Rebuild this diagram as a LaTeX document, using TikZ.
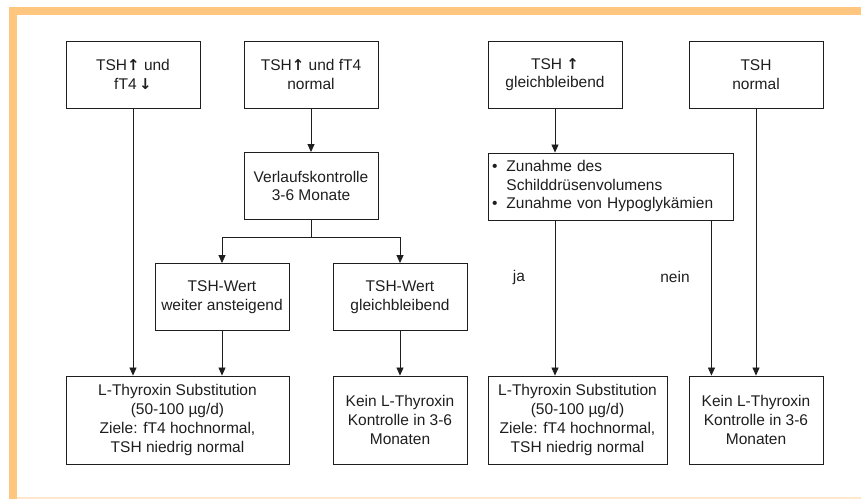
\documentclass[tikz,border=0pt]{standalone}
\usepackage{fontspec}
\setmainfont{Liberation Sans}
\newfontfamily\pfeilfont{DejaVu Sans}
\usetikzlibrary{arrows.meta}
\definecolor{rahmen}{RGB}{255,198,128}
\definecolor{rahmenhell}{RGB}{255,232,204}
\definecolor{tinte}{RGB}{30,30,30}
\newcommand{\auf}{{\pfeilfont\bfseries\fontsize{15}{15}\selectfont ↑}}
\newcommand{\ab}{{\pfeilfont\bfseries\fontsize{15}{15}\selectfont ↓}}

\begin{document}
\begin{tikzpicture}[x=1pt, y=-1pt,
  box/.style={draw=tinte, line width=0.9pt, align=center, inner sep=2pt,
    text=tinte, font=\fontsize{15.5}{18.7}\selectfont,
    minimum width=134pt, minimum height=67pt},
  hoch/.style={box, minimum height=88pt},
  pfeil/.style={draw=tinte, line width=0.75pt, -{Triangle[length=8pt,width=7pt]}},
  marke/.style={text=tinte, font=\fontsize{15.5}{18.7}\selectfont}]

  \useasboundingbox (0,0) rectangle (861,499);

  %% orange frame
  \fill[rahmen] (9,7) rectangle (17,499);
  \fill[rahmen] (9,7) rectangle (861,15);
  \fill[rahmenhell] (17,497) rectangle (861,499);

  %% top row
  \node[box] (tshA) at (133,74.5) {TSH\auf\ und\\fT4\,\ab};
  \node[box] (tshB) at (311,74.5) {TSH\auf\ und fT4\\normal};
  \node[box] (tshC) at (555,74.5) {TSH \auf\\gleichbleibend};
  \node[box] (tshD) at (756,74.5) {TSH\\normal};

  %% middle
  \node[box] (verl) at (311,186) {Verlaufskontrolle\\3-6 Monate};
  \node[box, minimum width=245pt, text width=237pt, align=left] (zun) at (610.5,186.5)
    {\begin{tabular}{@{}l@{\hspace{9pt}}l@{}}
       • & Zunahme des\\
         & Schilddrüsenvolumens\\
       • & Zunahme von Hypoglykämien
     \end{tabular}};
  \node[box] (weiter) at (222,297) {TSH-Wert\\weiter ansteigend};
  \node[box] (gleich) at (400,297) {TSH-Wert\\gleichbleibend};

  %% bottom row
  \node[hoch, minimum width=223pt] (lL) at (177.5,420)
    {L-Thyroxin Substitution\\(50-100 µg/d)\\Ziele: fT4 hochnormal,\\TSH niedrig normal};
  \node[hoch] (kM) at (400,420) {Kein L-Thyroxin\\Kontrolle in 3-6\\Monaten};
  \node[hoch, minimum width=179pt] (lR) at (577.5,420)
    {L-Thyroxin Substitution\\(50-100 µg/d)\\Ziele: fT4 hochnormal,\\TSH niedrig normal};
  \node[hoch] (kR) at (756,420) {Kein L-Thyroxin\\Kontrolle in 3-6\\Monaten};

  \node[marke] (ja) at (519,277) {ja};
  \node[marke] (nein) at (675,277) {nein};

  %% connectors
  \draw[pfeil] (tshA) -- (tshA |- lL.north);
  \draw[pfeil] (tshB) -- (verl);
  \coordinate (gabel) at (311,237);
  \draw[draw=tinte, line width=0.75pt] (verl) -- (gabel);
  \draw[pfeil] (gabel) -| (weiter);
  \draw[pfeil] (gabel) -| (gleich);
  \draw[pfeil] (weiter) -- (weiter |- lL.north);
  \draw[pfeil] (gleich) -- (kM);

  \draw[pfeil] (tshC) -- (tshC |- zun.north);
  \draw[pfeil] (tshC |- zun.south) -- (tshC |- lR.north); %% ja
  \draw[pfeil] ([xshift=-22pt]zun.south east) -- ([xshift=-22pt]zun.south east |- kR.north); %% nein
  \draw[pfeil] (tshD) -- (kR);

\end{tikzpicture}
\end{document}
